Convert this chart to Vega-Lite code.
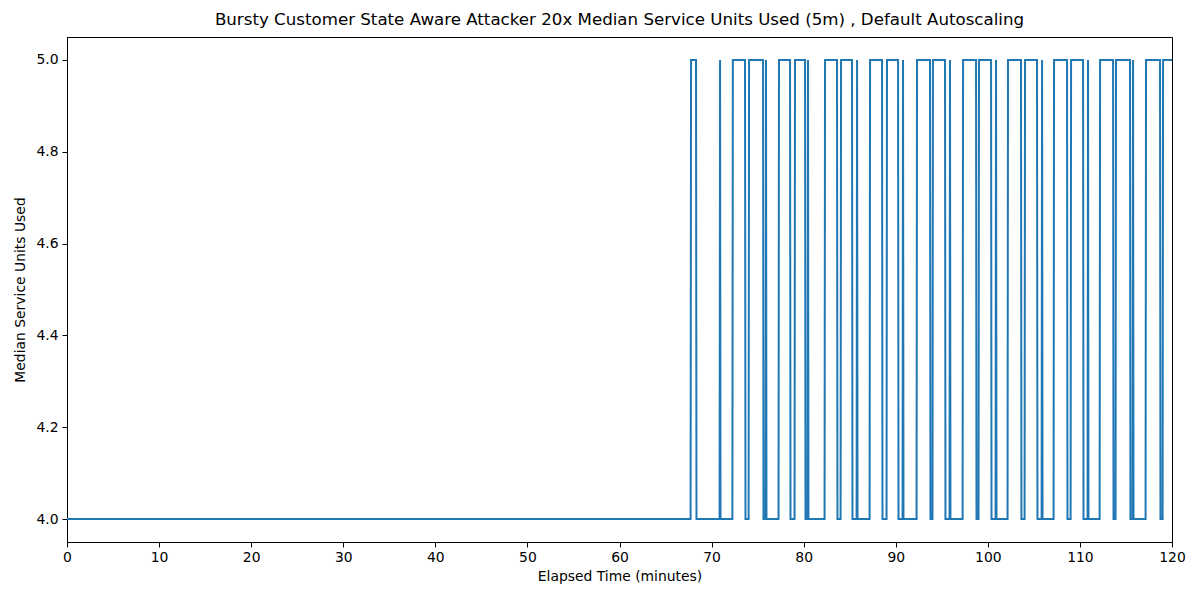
{
  "$schema": "https://vega.github.io/schema/vega-lite/v6.json",
  "width": 1105,
  "height": 505,
  "autosize": {"type": "none"},
  "padding": {"left": 67, "top": 37, "right": 28, "bottom": 58},
  "background": "white",
  "title": {"text": "Bursty Customer State Aware Attacker 20x Median Service Units Used (5m) , Default Autoscaling", "font": "DejaVu Sans", "fontSize": 16.67, "fontWeight": "normal", "color": "black", "offset": 8},
  "config": {"view": {"stroke": "black", "strokeWidth": 1}},
  "data": {"values": [
    {"t":0,"v":4},{"t":67.72,"v":4},{"t":67.77,"v":5},{"t":68.31,"v":5},{"t":68.36,"v":4},
    {"t":70.87,"v":4},{"t":70.92,"v":5},{"t":70.97,"v":4},
    {"t":72.26,"v":4},{"t":72.31,"v":5},{"t":73.63,"v":5},{"t":73.68,"v":4},
    {"t":74.02,"v":4},{"t":74.07,"v":5},{"t":75.59,"v":5},{"t":75.64,"v":4},
    {"t":75.86,"v":4},{"t":75.91,"v":5},{"t":75.96,"v":4},
    {"t":77.27,"v":4},{"t":77.32,"v":5},{"t":78.52,"v":5},{"t":78.57,"v":4},
    {"t":79.01,"v":4},{"t":79.06,"v":5},{"t":80.15,"v":5},{"t":80.20,"v":4},
    {"t":80.42,"v":4},{"t":80.47,"v":5},{"t":80.52,"v":4},
    {"t":82.27,"v":4},{"t":82.32,"v":5},{"t":83.62,"v":5},{"t":83.67,"v":4},
    {"t":84.01,"v":4},{"t":84.06,"v":5},{"t":85.25,"v":5},{"t":85.30,"v":4},
    {"t":85.75,"v":4},{"t":85.80,"v":5},{"t":85.85,"v":4},
    {"t":87.16,"v":4},{"t":87.21,"v":5},{"t":88.51,"v":5},{"t":88.56,"v":4},
    {"t":89.00,"v":4},{"t":89.05,"v":5},{"t":90.25,"v":5},{"t":90.30,"v":4},
    {"t":90.74,"v":4},{"t":90.79,"v":5},{"t":90.84,"v":4},
    {"t":92.26,"v":4},{"t":92.31,"v":5},{"t":93.72,"v":5},{"t":93.77,"v":4},
    {"t":93.99,"v":4},{"t":94.04,"v":5},{"t":95.35,"v":5},{"t":95.40,"v":4},
    {"t":95.84,"v":4},{"t":95.89,"v":5},{"t":95.94,"v":4},
    {"t":97.26,"v":4},{"t":97.31,"v":5},{"t":98.72,"v":5},{"t":98.77,"v":4},
    {"t":98.99,"v":4},{"t":99.04,"v":5},{"t":100.35,"v":5},{"t":100.40,"v":4},
    {"t":100.84,"v":4},{"t":100.89,"v":5},{"t":100.94,"v":4},
    {"t":102.14,"v":4},{"t":102.19,"v":5},{"t":103.60,"v":5},{"t":103.65,"v":4},
    {"t":103.99,"v":4},{"t":104.04,"v":5},{"t":105.34,"v":5},{"t":105.39,"v":4},
    {"t":105.84,"v":4},{"t":105.89,"v":5},{"t":105.94,"v":4},
    {"t":107.14,"v":4},{"t":107.19,"v":5},{"t":108.60,"v":5},{"t":108.65,"v":4},
    {"t":108.99,"v":4},{"t":109.04,"v":5},{"t":110.34,"v":5},{"t":110.39,"v":4},
    {"t":110.83,"v":4},{"t":110.88,"v":5},{"t":110.93,"v":4},
    {"t":112.14,"v":4},{"t":112.19,"v":5},{"t":113.60,"v":5},{"t":113.65,"v":4},
    {"t":113.87,"v":4},{"t":113.92,"v":5},{"t":115.44,"v":5},{"t":115.49,"v":4},
    {"t":115.72,"v":4},{"t":115.77,"v":5},{"t":115.82,"v":4},
    {"t":117.13,"v":4},{"t":117.18,"v":5},{"t":118.70,"v":5},{"t":118.75,"v":4},
    {"t":118.98,"v":4},{"t":119.03,"v":5},{"t":120,"v":5}
  ]},
  "mark": {"type": "line", "color": "#1f77b4", "strokeWidth": 2, "clip": true},
  "encoding": {
    "x": {"field": "t", "type": "quantitative",
      "scale": {"domain": [0, 120], "nice": false, "zero": false},
      "axis": {"title": "Elapsed Time (minutes)", "values": [0,10,20,30,40,50,60,70,80,90,100,110,120],
        "grid": false, "domainColor": "black", "tickColor": "black", "tickSize": 5, "labelColor": "black",
        "labelFont": "DejaVu Sans", "labelFontSize": 13.9, "titleFont": "DejaVu Sans", "titleFontSize": 13.9,
        "titleFontWeight": "normal", "titleColor": "black", "labelPadding": 3, "titlePadding": 6, "labelFlush": false}},
    "y": {"field": "v", "type": "quantitative",
      "scale": {"domain": [3.95, 5.05], "nice": false, "zero": false},
      "axis": {"title": "Median Service Units Used", "values": [4.0,4.2,4.4,4.6,4.8,5.0], "format": ".1f",
        "grid": false, "domainColor": "black", "tickColor": "black", "tickSize": 5, "labelColor": "black",
        "labelFont": "DejaVu Sans", "labelFontSize": 13.9, "titleFont": "DejaVu Sans", "titleFontSize": 13.9,
        "titleFontWeight": "normal", "titleColor": "black", "labelPadding": 4, "titlePadding": 8}}
  }
}
